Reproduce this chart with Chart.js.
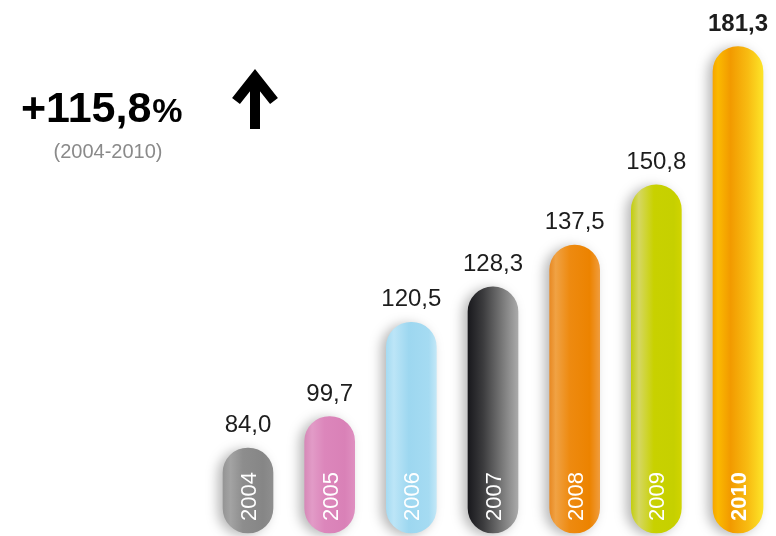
<!DOCTYPE html>
<html>
<head>
<meta charset="utf-8">
<script src="https://cdn.jsdelivr.net/npm/chart.js@4/dist/chart.umd.min.js"></script>
<style>
  html, body { margin: 0; padding: 0; background: #ffffff; }
  #wrap { width: 776px; height: 536px; position: relative; overflow: hidden; }
</style>
</head>
<body>
<div id="wrap"><canvas id="c" width="776" height="536"></canvas></div>
<script>
// ---- data ----
const years = ['2004', '2005', '2006', '2007', '2008', '2009', '2010'];
const values = [84.0, 99.7, 120.5, 128.3, 137.5, 150.8, 181.3];
const valueLabels = ['84,0', '99,7', '120,5', '128,3', '137,5', '150,8', '181,3'];
const axisMin = 74;
const axisMax = 191.6;
const headline = '+115,8';
const headlineUnit = '%';
const headlinePeriod = '(2004-2010)';

// ---- styles ----
const barGradients = [
  [[0, '#959595'], [0.15, '#a3a3a3'], [0.4, '#8d8d8d'], [0.8, '#868686'], [1, '#8e8e8e']],
  [[0, '#d689b8'], [0.15, '#e29bc7'], [0.4, '#dc86bb'], [0.8, '#d981b7'], [1, '#df8fc0']],
  [[0, '#a6dbf2'], [0.15, '#bce5f7'], [0.45, '#9dd7f0'], [0.85, '#a5dbf2'], [1, '#c2e7f7']],
  [[0, '#19191d'], [0.3, '#3b3b3d'], [0.7, '#7b7b7b'], [1, '#aaaaaa']],
  [[0, '#e88a24'], [0.12, '#f0a244'], [0.4, '#ee8a10'], [0.8, '#ec8300'], [1, '#f09c3c']],
  [[0, '#c3ce12'], [0.15, '#d5d762'], [0.45, '#c8d100'], [0.85, '#c6d000'], [1, '#d0d400']],
  [[0, '#f6a600'], [0.1, '#fbb900'], [0.35, '#f29a00'], [0.7, '#f8bc12'], [1, '#fde428']]
];
const fallbackColors = ['#8d8d8d', '#dc86bb', '#9dd7f0', '#555555', '#ee8a10', '#c8d100', '#f5a800'];
const BAR_W = 50;

function barFill(ctx) {
  const chart = ctx.chart;
  const i = ctx.dataIndex;
  if (i === undefined) return '#999999';
  const xs = chart.scales && chart.scales.x;
  if (!xs || !chart.chartArea) return fallbackColors[i];
  const cx = xs.getPixelForValue(i);
  if (!isFinite(cx)) return fallbackColors[i];
  const g = chart.ctx.createLinearGradient(cx - BAR_W / 2, 0, cx + BAR_W / 2, 0);
  barGradients[i].forEach(s => g.addColorStop(s[0], s[1]));
  return g;
}

const shadowPlugin = {
  id: 'barShadow',
  beforeDatasetsDraw(chart) {
    const c = chart.ctx;
    c.save();
    c.shadowColor = 'rgba(0,0,0,0.28)';
    c.shadowBlur = 12;
    c.shadowOffsetX = -5;
    c.shadowOffsetY = 2;
  },
  afterDatasetsDraw(chart) {
    chart.ctx.restore();
  }
};

const labelPlugin = {
  id: 'labels',
  afterDraw(chart) {
    const c = chart.ctx;
    const meta = chart.getDatasetMeta(0);
    const fam = "'Helvetica Neue', 'Liberation Sans', Arial, sans-serif";
    meta.data.forEach((bar, i) => {
      const last = i === meta.data.length - 1;
      c.save();
      c.fillStyle = '#1d1d1d';
      c.font = (last ? 'bold ' : '') + '24px ' + fam;
      c.textAlign = 'center';
      c.textBaseline = 'alphabetic';
      c.fillText(valueLabels[i], bar.x, bar.y - 16);
      c.restore();
      c.save();
      c.fillStyle = '#ffffff';
      c.font = (last ? 'bold ' : '') + '22px ' + fam;
      c.translate(bar.x, bar.base);
      c.rotate(-Math.PI / 2);
      c.textAlign = 'left';
      c.textBaseline = 'alphabetic';
      c.fillText(years[i], 12, 8);
      c.restore();
    });
    c.save();
    c.fillStyle = '#000000';
    c.textAlign = 'left';
    c.textBaseline = 'alphabetic';
    c.font = "bold 43px " + fam;
    c.fillText(headline, 21, 122);
    const w = c.measureText(headline).width;
    c.font = "bold 34px " + fam;
    c.fillText(headlineUnit, 21 + w + 1, 122);
    c.fillStyle = '#8a8a8a';
    c.font = "20px " + fam;
    c.textAlign = 'center';
    c.fillText(headlinePeriod, 108, 158);
    c.strokeStyle = '#000000';
    c.lineWidth = 10;
    c.lineJoin = 'miter';
    c.lineCap = 'butt';
    c.beginPath();
    c.moveTo(236, 101);
    c.lineTo(255, 77);
    c.lineTo(274, 101);
    c.stroke();
    c.beginPath();
    c.moveTo(255, 76);
    c.lineTo(255, 129);
    c.stroke();
    c.restore();
  }
};

const chart = new Chart(document.getElementById('c'), {
  type: 'bar',
  data: {
    labels: years,
    datasets: [{
      data: values,
      base: axisMin,
      backgroundColor: barFill,
      borderWidth: 0,
      borderRadius: 25,
      borderSkipped: false,
      barThickness: BAR_W,
      minBarLength: 85,
      clip: false
    }]
  },
  options: {
    responsive: false,
    animation: false,
    devicePixelRatio: 1,
    layout: { padding: { left: 248, right: 38, top: 0, bottom: 3 } },
    plugins: { legend: { display: false }, tooltip: { enabled: false } },
    scales: {
      x: { display: false, offset: false, grid: { display: false } },
      y: { display: false, min: axisMin, max: axisMax, grid: { display: false } }
    }
  },
  plugins: [shadowPlugin, labelPlugin]
});
chart.update();
</script>
</body>
</html>
